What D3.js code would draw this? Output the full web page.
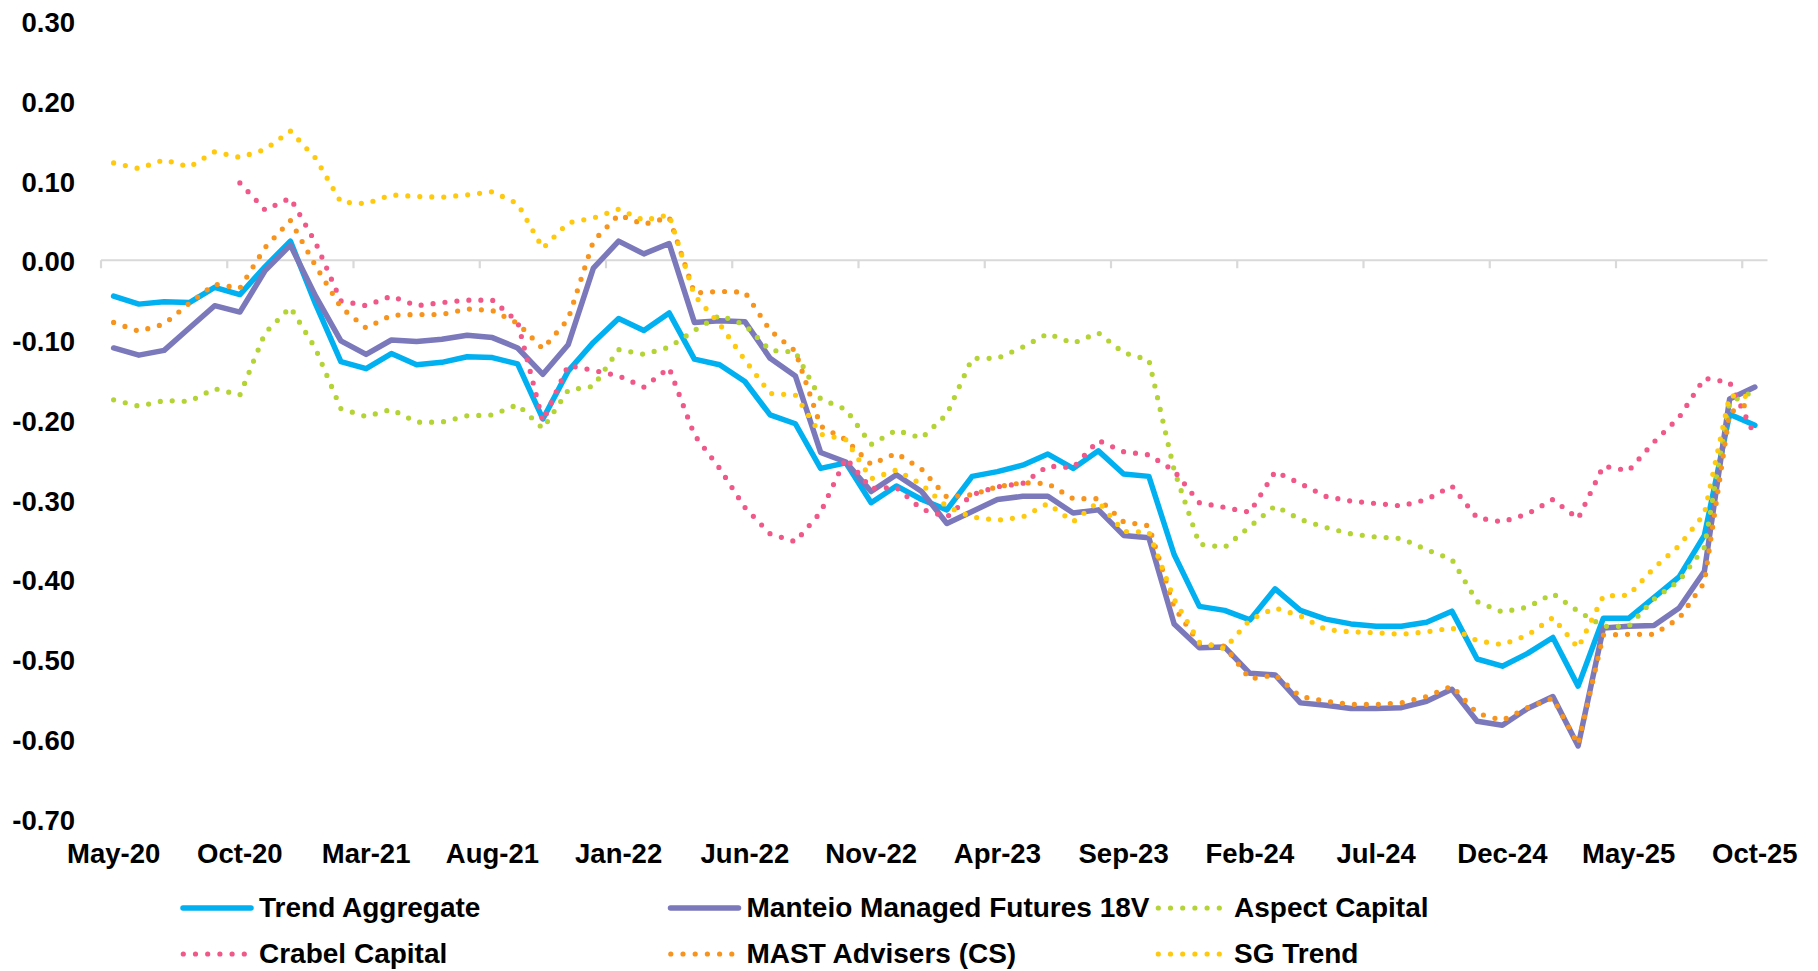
<!DOCTYPE html>
<html>
<head>
<meta charset="utf-8">
<script src="https://cdn.jsdelivr.net/npm/d3@7"></script>
<style>
  html, body { margin: 0; padding: 0; background: #ffffff; }
  svg text { font-family: "Liberation Sans", Arial, sans-serif; font-weight: bold; fill: #000; }
</style>
</head>
<body>
<svg id="chart" width="1818" height="971"></svg>
<script>
// ---------------- DATA ----------------
const months = ["May-20","Jun-20","Jul-20","Aug-20","Sep-20","Oct-20","Nov-20","Dec-20",
  "Jan-21","Feb-21","Mar-21","Apr-21","May-21","Jun-21","Jul-21","Aug-21","Sep-21","Oct-21","Nov-21","Dec-21",
  "Jan-22","Feb-22","Mar-22","Apr-22","May-22","Jun-22","Jul-22","Aug-22","Sep-22","Oct-22","Nov-22","Dec-22",
  "Jan-23","Feb-23","Mar-23","Apr-23","May-23","Jun-23","Jul-23","Aug-23","Sep-23","Oct-23","Nov-23","Dec-23",
  "Jan-24","Feb-24","Mar-24","Apr-24","May-24","Jun-24","Jul-24","Aug-24","Sep-24","Oct-24","Nov-24","Dec-24",
  "Jan-25","Feb-25","Mar-25","Apr-25","May-25","Jun-25","Jul-25","Aug-25","Sep-25","Oct-25"];

const xTickLabels = ["May-20","Oct-20","Mar-21","Aug-21","Jan-22","Jun-22","Nov-22","Apr-23",
  "Sep-23","Feb-24","Jul-24","Dec-24","May-25","Oct-25"];

const yTickValues = [0.30, 0.20, 0.10, 0.00, -0.10, -0.20, -0.30, -0.40, -0.50, -0.60, -0.70];

const seriesNames = ["Trend Aggregate","Manteio Managed Futures 18V","Aspect Capital",
  "Crabel Capital","MAST Advisers (CS)","SG Trend"];

const trendAggregate = [-0.045,-0.055,-0.052,-0.053,-0.034,-0.043,-0.008,0.024,
  -0.055,-0.127,-0.136,-0.117,-0.131,-0.128,-0.121,-0.122,-0.130,-0.199,-0.139,-0.103,
  -0.073,-0.088,-0.066,-0.124,-0.131,-0.152,-0.194,-0.205,-0.261,-0.254,-0.304,-0.283,
  -0.300,-0.313,-0.271,-0.265,-0.257,-0.243,-0.261,-0.239,-0.268,-0.271,-0.369,-0.434,
  -0.439,-0.451,-0.412,-0.439,-0.450,-0.456,-0.459,-0.459,-0.454,-0.440,-0.500,-0.509,
  -0.493,-0.473,-0.534,-0.449,-0.449,-0.423,-0.397,-0.345,-0.193,-0.207];

const manteio = [-0.110,-0.119,-0.113,-0.085,-0.057,-0.065,-0.013,0.019,
  -0.045,-0.101,-0.118,-0.100,-0.102,-0.099,-0.094,-0.097,-0.110,-0.143,-0.106,-0.010,
  0.024,0.008,0.021,-0.078,-0.076,-0.077,-0.123,-0.145,-0.241,-0.253,-0.290,-0.269,
  -0.290,-0.330,-0.315,-0.300,-0.296,-0.296,-0.317,-0.313,-0.345,-0.348,-0.456,-0.486,
  -0.485,-0.518,-0.520,-0.555,-0.558,-0.562,-0.562,-0.561,-0.553,-0.538,-0.578,-0.583,
  -0.562,-0.547,-0.609,-0.461,-0.459,-0.458,-0.436,-0.390,-0.174,-0.159];

const aspect = [-0.175,-0.183,-0.176,-0.177,-0.161,-0.169,-0.091,-0.059,
  -0.111,-0.186,-0.196,-0.187,-0.203,-0.203,-0.195,-0.194,-0.181,-0.211,-0.163,-0.158,
  -0.112,-0.118,-0.109,-0.088,-0.069,-0.081,-0.113,-0.115,-0.174,-0.187,-0.231,-0.213,
  -0.223,-0.193,-0.123,-0.123,-0.109,-0.092,-0.104,-0.091,-0.116,-0.125,-0.263,-0.356,
  -0.360,-0.334,-0.308,-0.325,-0.335,-0.343,-0.347,-0.349,-0.363,-0.375,-0.428,-0.441,
  -0.435,-0.418,-0.440,-0.459,-0.459,-0.425,-0.402,-0.360,-0.178,-0.164];

const crabel = [null,null,null,null,null,0.097,0.063,0.078,
  0.022,-0.051,-0.057,-0.045,-0.057,-0.053,-0.050,-0.050,-0.077,-0.202,-0.132,-0.138,
  -0.145,-0.159,-0.135,-0.219,-0.261,-0.310,-0.343,-0.353,-0.316,-0.248,-0.286,-0.285,
  -0.312,-0.322,-0.294,-0.284,-0.280,-0.258,-0.260,-0.226,-0.240,-0.244,-0.264,-0.304,
  -0.310,-0.316,-0.265,-0.280,-0.296,-0.302,-0.305,-0.308,-0.300,-0.283,-0.323,-0.328,
  -0.318,-0.300,-0.324,-0.258,-0.264,-0.228,-0.197,-0.148,-0.153,-0.220];

const mast = [-0.078,-0.089,-0.080,-0.054,-0.030,-0.035,0.016,0.050,
  -0.007,-0.059,-0.085,-0.069,-0.068,-0.068,-0.061,-0.063,-0.079,-0.111,-0.074,0.024,
  0.057,0.045,0.054,-0.041,-0.039,-0.040,-0.088,-0.114,-0.208,-0.225,-0.256,-0.242,
  -0.262,-0.297,-0.294,-0.284,-0.279,-0.280,-0.299,-0.299,-0.328,-0.333,-0.435,-0.481,
  -0.484,-0.525,-0.520,-0.547,-0.553,-0.557,-0.557,-0.555,-0.547,-0.534,-0.568,-0.577,
  -0.561,-0.549,-0.607,-0.470,-0.469,-0.469,-0.449,-0.404,-0.191,-0.176];

const sgTrend = [0.122,0.115,0.126,0.117,0.136,0.129,0.139,0.162,
  0.128,0.073,0.071,0.082,0.080,0.079,0.082,0.086,0.071,0.015,0.047,0.053,
  0.064,0.050,0.057,-0.044,-0.080,-0.125,-0.167,-0.169,-0.218,-0.225,-0.274,-0.263,
  -0.281,-0.309,-0.322,-0.326,-0.322,-0.305,-0.328,-0.303,-0.340,-0.341,-0.425,-0.479,
  -0.487,-0.451,-0.436,-0.446,-0.463,-0.466,-0.467,-0.469,-0.466,-0.461,-0.477,-0.482,
  -0.470,-0.448,-0.486,-0.421,-0.420,-0.386,-0.358,-0.318,-0.170,-0.171];

const seriesValues = [trendAggregate, manteio, aspect, crabel, mast, sgTrend];
const seriesColors = ["#00B0F0","#7B78BC","#B4D334","#F0588A","#F7941E","#FFC90E"];
const seriesDotted = [false,false,true,true,true,true];

// ---------------- LAYOUT ----------------
const svg = d3.select("#chart");
const plotLeft = 101, plotRight = 1767.5, plotTop = 21, plotBottom = 818.5;

const x = d3.scaleBand().domain(months).range([plotLeft, plotRight]).paddingInner(0).paddingOuter(0);
const xc = m => x(m) + x.bandwidth() / 2;
const y = d3.scaleLinear().domain([-0.7, 0.3]).range([plotBottom, plotTop]);

const fmt = d3.formatLocale({decimal: ".", thousands: ",", grouping: [3], currency: ["", ""], minus: "-"}).format(".2f");

// Y axis labels (no axis line)
const yAxis = d3.axisLeft(y).tickValues(yTickValues).tickFormat(fmt).tickSize(0).tickPadding(0);
const gy = svg.append("g").attr("transform", "translate(75,0)").call(yAxis);
gy.select(".domain").remove();
gy.selectAll("text")
  .attr("x", 0).attr("dy", null).attr("dominant-baseline", "central").attr("y", 1)
  .style("font-family", "'Liberation Sans', Arial, sans-serif")
  .style("font-weight", "bold").style("font-size", "27.5px").attr("fill", "#000");

// Zero line (category axis) with tick marks every 5 categories at band edges
const zeroY = y(0);
const tickMonths = months.filter((m, i) => i % 5 === 0);
const xAxisLine = d3.axisBottom(x).tickValues(tickMonths).tickSize(8).tickFormat("").tickSizeOuter(0);
const gx = svg.append("g").attr("transform", `translate(0,${zeroY})`).call(xAxisLine);
gx.select(".domain").attr("stroke", "#D9D9D9").attr("stroke-width", 2.2)
  .attr("d", `M${plotLeft},0H${plotRight}`);
gx.selectAll(".tick").attr("transform", d => `translate(${x(d)},0)`);
gx.selectAll(".tick line").attr("stroke", "#D9D9D9").attr("stroke-width", 2.2);

// X labels at bottom
const xLabelAxis = d3.axisBottom(x).tickValues(xTickLabels).tickSize(0).tickPadding(0);
const gxl = svg.append("g").attr("transform", "translate(0,863)").call(xLabelAxis);
gxl.select(".domain").remove();
gxl.selectAll("text").attr("y", 0).attr("dy", null)
  .style("font-family", "'Liberation Sans', Arial, sans-serif")
  .style("font-weight", "bold").style("font-size", "27.5px").attr("fill", "#000");

// Lines
const line = d3.line()
  .defined(d => d.v !== null)
  .x(d => xc(d.m))
  .y(d => y(d.v));

seriesValues.forEach((vals, s) => {
  const data = months.map((m, i) => ({m, v: vals[i]}));
  const p = svg.append("path")
    .datum(data)
    .attr("d", line)
    .attr("fill", "none")
    .attr("stroke", seriesColors[s])
    .attr("stroke-width", seriesDotted[s] ? 5.2 : 5.5)
    .attr("stroke-linejoin", "round")
    .attr("stroke-linecap", "round");
  if (seriesDotted[s]) p.attr("stroke-dasharray", "0 12");
});

// Legend
const legend = svg.append("g");
seriesNames.forEach((name, k) => {
  const col = k % 3, row = Math.floor(k / 3);
  const x0 = 181 + 487.5 * col;
  const ly = 908 + 46 * row;
  const g = legend.append("g");
  if (seriesDotted[k]) {
    g.append("line").attr("x1", x0 + 2.3).attr("x2", x0 + 66).attr("y1", ly).attr("y2", ly)
      .attr("stroke", seriesColors[k]).attr("stroke-width", 5.2)
      .attr("stroke-linecap", "round").attr("stroke-dasharray", "0 12.2");
  } else {
    g.append("line").attr("x1", x0 + 2).attr("x2", x0 + 70).attr("y1", ly).attr("y2", ly)
      .attr("stroke", seriesColors[k]).attr("stroke-width", 5.5).attr("stroke-linecap", "round");
  }
  g.append("text").attr("x", x0 + 78).attr("y", ly + 9)
    .style("font-size", "28px").text(name);
});
</script>
</body>
</html>
